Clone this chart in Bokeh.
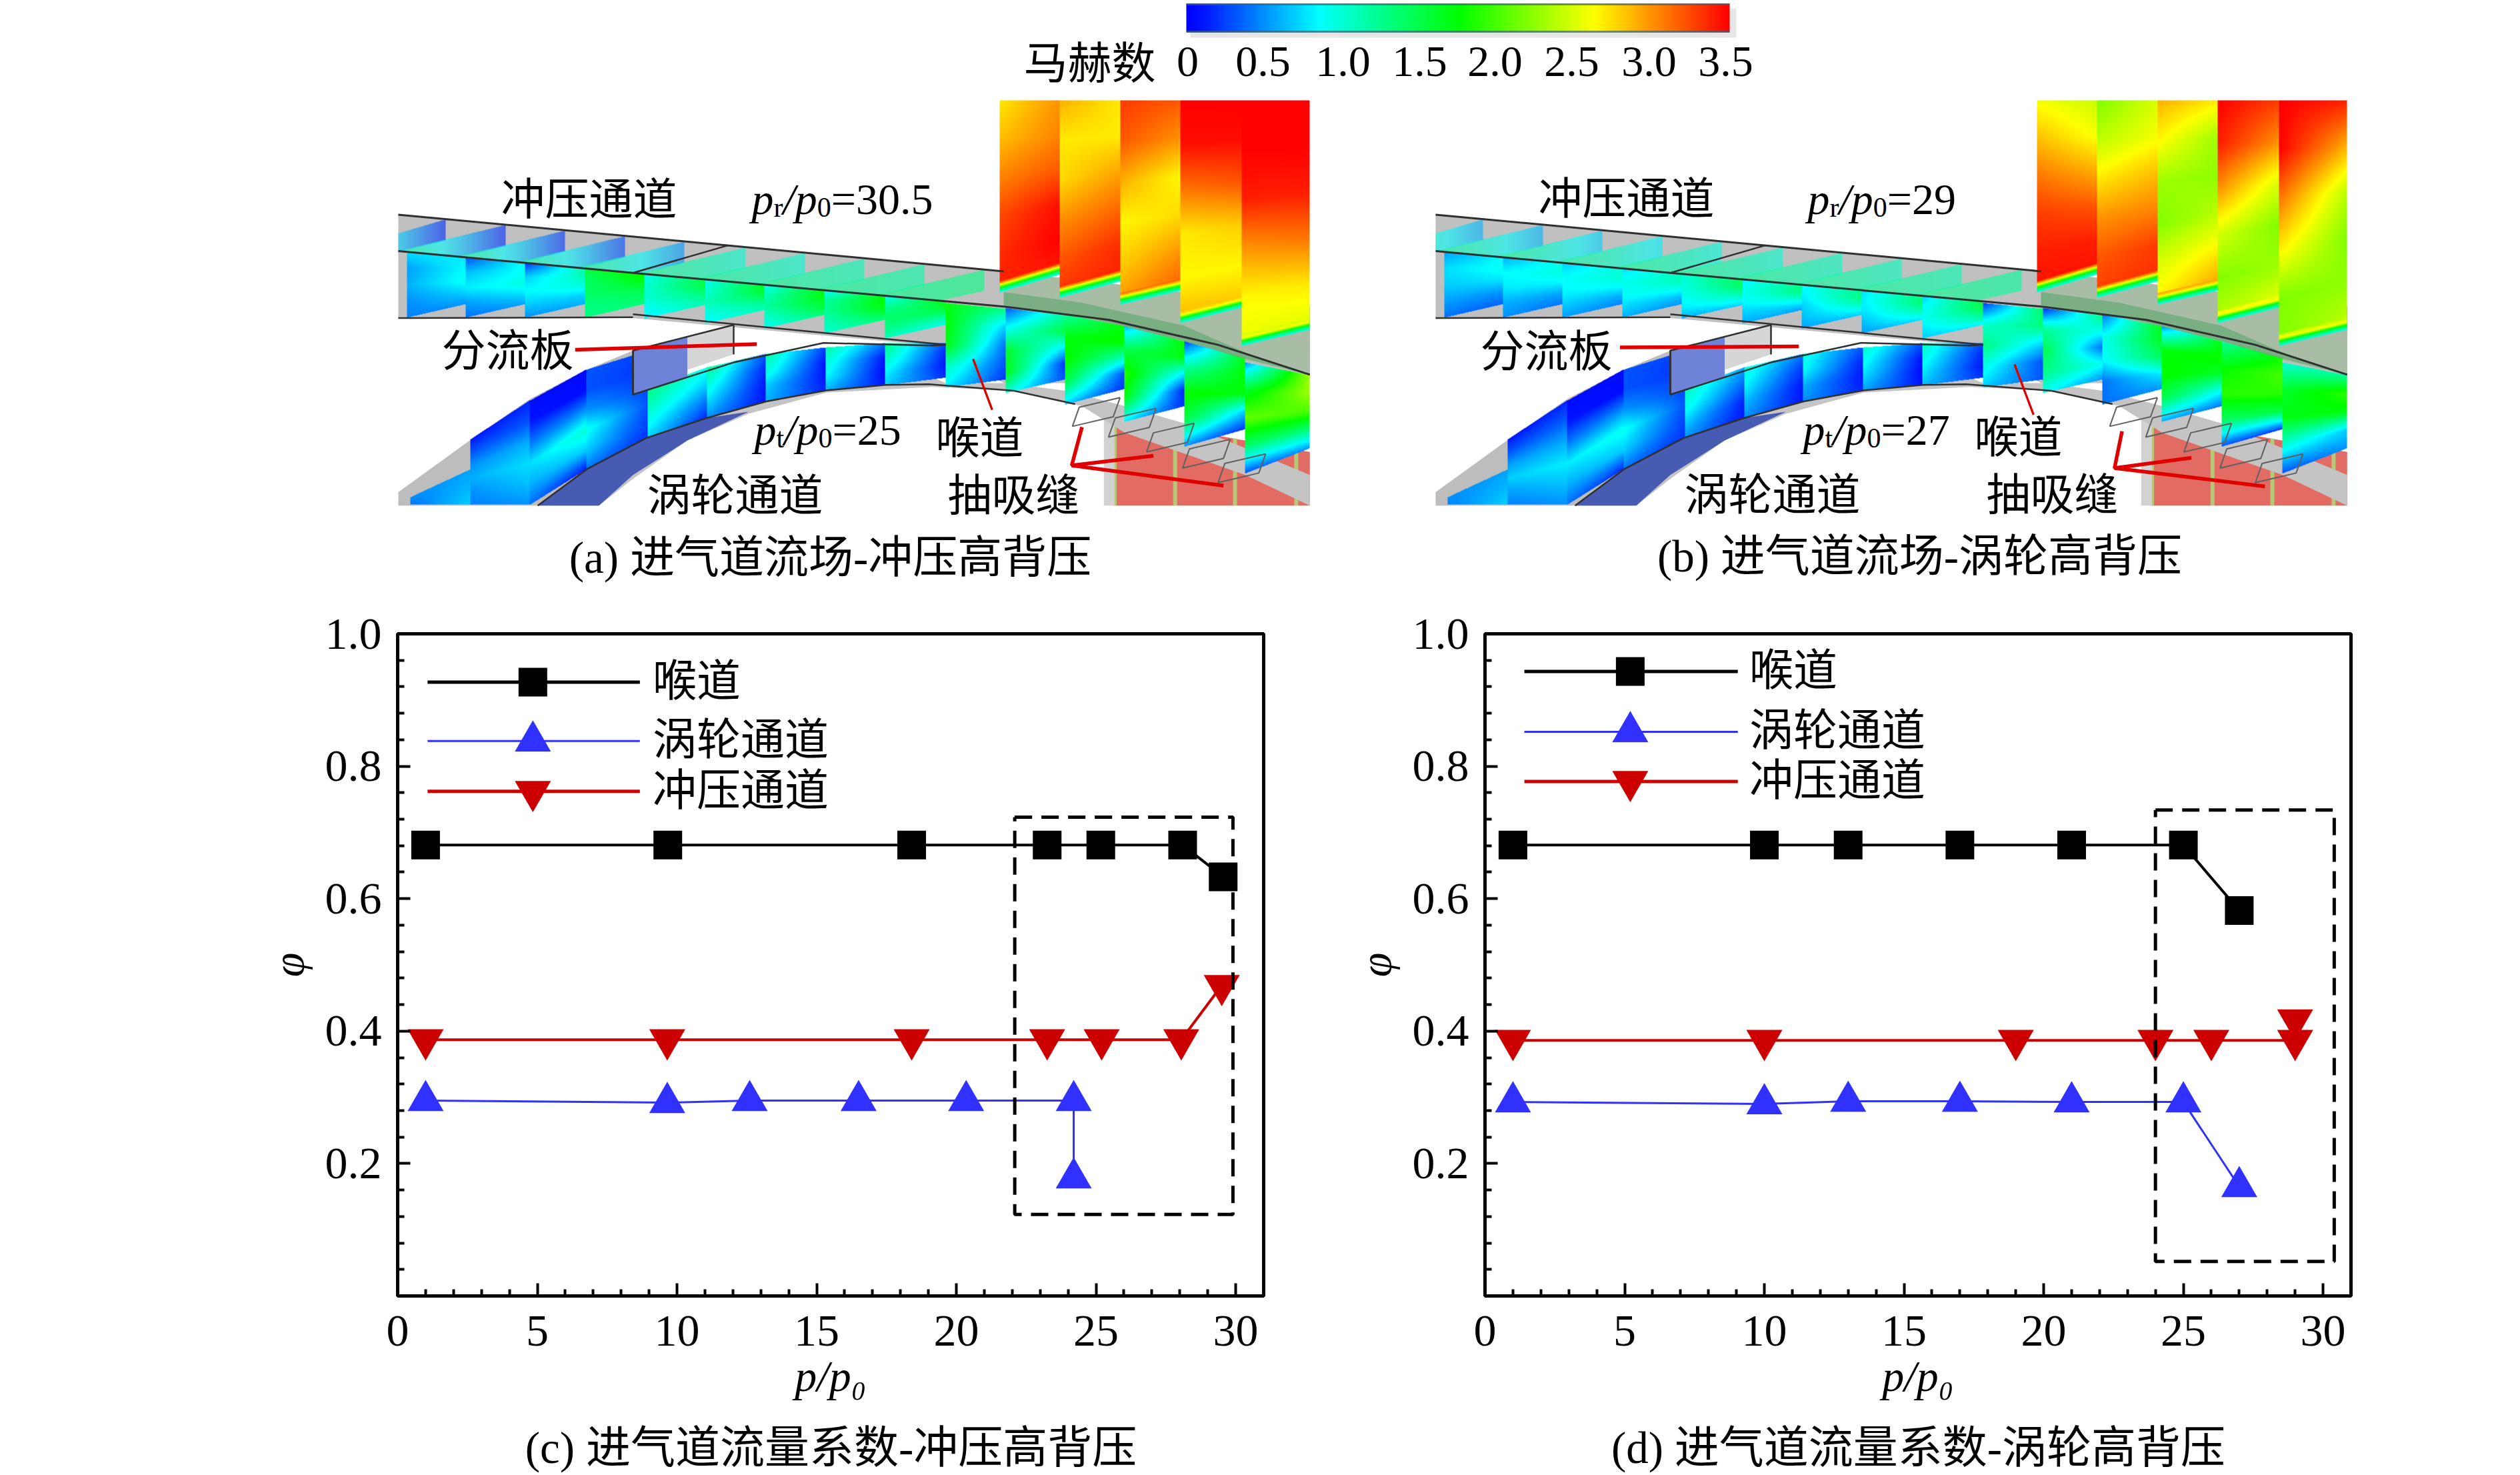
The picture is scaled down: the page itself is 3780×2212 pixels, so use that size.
import numpy as np
from bokeh.plotting import figure
from bokeh.layouts import column, row
from bokeh.models import Range1d, FixedTicker, LinearColorMapper, PrintfTickFormatter
from bokeh.core.properties import value
from bokeh.embed import file_html
from bokeh.resources import INLINE

# ---------------- chart values ----------------
C_THROAT_X = [1, 9.67, 18.4, 23.25, 25.17, 28.1, 29.55]
C_THROAT_Y = [0.681, 0.681, 0.681, 0.681, 0.681, 0.681, 0.633]
C_TURBINE_X = [1, 9.65, 12.6, 16.5, 20.35, 24.2, 24.2]
C_TURBINE_Y = [0.295, 0.292, 0.295, 0.295, 0.295, 0.295, 0.178]
C_RAM_X = [1, 9.65, 18.4, 23.25, 25.2, 28.05, 29.5]
C_RAM_Y = [0.387, 0.387, 0.387, 0.387, 0.387, 0.387, 0.469]
C_BOX_X = [22.09, 29.9, 29.9, 22.09, 22.09]
C_BOX_Y = [0.723, 0.723, 0.123, 0.123, 0.723]

D_THROAT_X = [1, 10, 13, 17, 21, 25, 27]
D_THROAT_Y = [0.681, 0.681, 0.681, 0.681, 0.681, 0.681, 0.582]
D_TURBINE_X = [1, 10, 13, 17, 21, 25, 27]
D_TURBINE_Y = [0.293, 0.290, 0.294, 0.294, 0.293, 0.293, 0.165]
D_RAM_X = [1, 10, 19, 24, 26, 29, 29]
D_RAM_Y = [0.386, 0.386, 0.386, 0.386, 0.386, 0.386, 0.417]
D_BOX_X = [24.0, 30.4, 30.4, 24.0, 24.0]
D_BOX_Y = [0.734, 0.734, 0.052, 0.052, 0.734]

X_TICKS = [0, 5, 10, 15, 20, 25, 30]
X_MINOR = [i for i in range(1, 31) if i % 5]
Y_TICKS = [0.2, 0.4, 0.6, 0.8, 1.0]
Y_MINOR = [round(0.04 * i, 2) for i in range(1, 25) if i % 5]
SERIES_NAMES = ["喉道", "涡轮通道", "冲压通道"]
COLORBAR_TICKS = ["0", "0.5", "1.0", "1.5", "2.0", "2.5", "3.0", "3.5"]

# ---------------- Mach colour scale ----------------
MACH_STOPS = [0.0, 0.1, 0.85, 1.3, 1.76, 2.63, 3.5]
R_STOPS = [0, 0, 0, 0, 0, 255, 255]
G_STOPS = [0, 20, 255, 255, 255, 255, 0]
B_STOPS = [255, 255, 255, 128, 0, 0, 0]

# ---------------- flow-field illustration: Mach read per slice (left edge, right edge) ----------------
UP_X = [108, 195, 282, 370, 457, 546, 634, 722, 811, 900]
UP_A = [([.75,.55,.6,.5,.45],[.8,.85,.9,.7,.5]), ([.3,.65,.8,.55,.4],[.9,.9,.95,.75,.55]),
        ([.2,.7,.85,.7,.5],[1.2,1.1,.95,.7,.6]), ([1.5,1.4,1.4,1.3,1.3],[1.8,1.7,1.5,1.4,1.3]),
        ([.9,1.,1.,.9,.8],[1.5,1.5,1.35,1.2,1.1]), ([.9,1.,1.1,.95,.85],[1.6,1.6,1.4,1.2,1.1]),
        ([.9,1.1,1.2,1.,.9],[1.7,1.7,1.6,1.5,1.3]), ([.85,1.2,1.2,1.1,1.],[1.75,1.75,1.7,1.5,1.3]),
        ([.9,1.2,1.4,1.3,1.1],[1.7,1.6,1.4,1.1,.9])]
UP_B = [([.55,.75,.7,.55,.4],[.85,.9,.75,.5,.35]), ([.6,.85,.8,.6,.5],[.95,.95,.8,.55,.4]),
        ([.7,.85,.85,.7,.55],[1.,1.,.85,.6,.45]), ([.75,.9,.9,.75,.6],[1.1,1.1,.9,.65,.5]),
        ([1.,.95,.9,.8,.6],[1.4,1.4,1.2,.95,.7]), ([.8,.9,.85,.7,.6],[1.25,1.3,1.05,.75,.55]),
        ([.85,.8,.7,.65,.55],[1.2,1.3,1.15,.9,.7]), ([.75,.8,.75,.65,.55],[1.3,1.35,1.2,1.,.75]),
        ([.7,.85,.9,.8,.7],[1.5,1.5,1.3,1.1,.8])]
THROAT_GEOM = [(900,988,790,805,1010,990), (988,1076,803,822,1025,990), (1076,1163,820,850,1055,1015),
               (1163,1251,850,890,1100,1060), (1251,1340,890,932,1165,1120), (1340,1435,945,978,1235,1170)]
THROAT_A = [([1.7,1.75,1.7,1.1,.8],[1.3,.7,.4,.3,.2]), ([.3,.9,1.6,1.7,1.],[1.2,1.5,.8,.2,.3]),
            ([1.2,1.7,1.8,1.5,.7],[1.75,1.8,1.1,.3,.2]), ([.6,1.5,1.9,1.7,.8],[1.8,1.7,.8,.15,.2]),
            ([.25,1.2,1.8,1.5,.5],[1.7,1.75,1.7,.7,.2]), ([.5,1.6,2.1,1.4,.3],[2.3,2.3,2.,1.3,.5])]
THROAT_B = [([.2,1.,1.3,.95,.7],[1.4,1.3,.7,.3,.3]), ([.15,1.2,1.5,1.3,.9],[1.3,.9,.4,.9,.5]),
            ([.4,.9,.85,.4,.4],[1.7,1.6,1.4,.8,.5]), ([.5,1.7,1.8,1.5,.6],[1.7,1.8,1.6,.9,.4]),
            ([1.2,1.75,1.9,1.4,.3],[1.8,2.,1.9,1.5,.2]), ([1.,1.6,1.7,1.,.3],[1.2,1.9,1.7,.7,.5])]
TALL_GEOM = [(980,1068,762,716), (1068,1157,776,734), (1157,1245,794,758), (1245,1335,842,802), (1335,1435,902,860)]
TALL_A = [([2.7,2.85,3.05,3.25,3.35,3.4],[3.,3.05,3.2,3.45,3.5,3.4]), ([2.9,2.7,2.75,3.,3.2,3.35],[2.7,2.7,2.95,3.15,3.35,3.4]),
          ([3.3,3.2,2.9,2.65,2.8,3.],[3.2,3.,2.65,2.75,3.,3.2]), ([3.5,3.45,3.1,2.7,2.65,2.9],[3.5,3.45,3.2,2.8,2.65,2.85]),
          ([3.5,3.5,3.4,3.,2.65,2.55],[3.5,3.5,3.4,3.1,2.7,2.5])]
TALL_B = [([2.6,2.85,3.1,3.3,3.4,3.45],[2.45,2.6,2.9,3.2,3.4,3.45]), ([2.2,2.4,2.7,3.,3.2,3.3],[2.5,2.6,2.85,3.05,3.3,3.35]),
          ([2.9,2.65,2.3,2.2,2.5,2.7],[2.7,2.3,2.25,2.4,2.7,3.]), ([3.5,3.4,3.,2.5,2.2,2.4],[3.3,3.,2.5,2.2,2.3,2.6]),
          ([3.5,3.5,3.1,2.7,2.2,2.2],[3.4,2.9,2.4,2.2,2.25,2.45])]
LOW_GEOM = [(113,201,1297,1225,1317,1317), (201,289,1146,1045,1317,1317), (289,372,1045,964,1317,1225),
            (372,462,964,915,1225,1143), (462,549,1015,958,1146,1091), (549,636,958,923,1091,1048),
            (636,724,923,906,1048,1019), (724,811,906,895,1019,1005), (811,900,895,895,1005,985)]
LOW_A = [([.5,.4],[.55,.7]), ([.1,.3,.5,.6,.5,.45],[.15,.3,.6,.75,.65,.5]), ([.05,.1,.4,.75,.6,.4],[.05,.05,.5,1.,.7,.1]),
         ([.3,.3,.5,.9,.7,.4],[.25,.2,.25,.3,.25,.2]), ([1.3,1.1,.9,.7],[.9,.7,.4,.15]), ([1.25,1.,.75,.5],[.3,.15,.1,.1]),
         ([1.2,1.,.7,.6],[.25,.1,.1,.15]), ([1.2,1.,.85,.6],[.4,.1,.05,.1]), ([1.3,1.1,.85,.7],[.25,.15,.1,.2])]
LOW_B = [([.5,.45],[.55,.7]), ([.1,.3,.55,.7,.55,.45],[.15,.35,.6,.8,.65,.5]), ([.05,.1,.4,.8,.6,.4],[.05,.05,.5,.9,.7,.15]),
         ([.3,.3,.5,.9,.7,.4],[.25,.2,.25,.3,.25,.2]), ([1.1,.95,.7,.5],[.55,.35,.15,.1]), ([1.,.85,.65,.5],[.4,.2,.1,.1]),
         ([.95,.85,.6,.5],[.3,.15,.1,.15]), ([1.05,.9,.75,.55],[.3,.1,.05,.1]), ([1.1,.95,.8,.65],[.25,.15,.1,.2])]
TEETH_X = [165, 253, 341, 429, 516, 606, 693, 781, 869, 957]
TEETH_A = [.15, .15, .2, .25, .5, 1.0, 1.0, 1.1, 1.15, 1.3]
TEETH_B = [.6, .6, .7, .8, .95, 1.0, 1.05, 1.05, 1.1, 1.2]
FRONT_X, FRONT_Y = [95, 440, 985], [655, 712, 800]
BACK_X, BACK_Y = [95, 985], [560, 708]
LOWER_EDGE_X, LOWER_EDGE_Y = [95, 440, 900], [828, 828, 895]

# outlines of the inlet, in the reference's panel (a) sketch units
GRAY_WALL = ([95,580,985,1435,1435,1250,1100,985,900,440,95], [560,640,708,800,990,1000,1000,1000,905,830,830])
THROAT_WALL_TINT = ([985,1435,1435,985], [708,800,978,800])
FIN_BLUE = ([440,520,520,440], [915,880,985,1030])
FIN_GRAY = ([520,588,588,520], [880,848,925,965])
TURB_OUTER = ([95,130,200,290,372,440,462,462,372,300,95], [1285,1240,1150,1040,965,915,905,1143,1225,1320,1320])
LOWER_BAND = ([300,372,460,549,636,724,811,880,900,990,1076,1163,1250,1340,1435,1435,1340,1163,1100,1000,880,724,610,520,440,390],
              [1320,1225,1143,1091,1048,1019,1005,985,1000,1000,1020,1060,1105,1170,1240,1320,1240,1130,1060,1020,1010,1025,1080,1150,1250,1320])
BAND_DARK = ([300,372,460,549,610,520,440,390], [1320,1225,1143,1091,1075,1150,1240,1320])
RED_BG = ([1148,1435,1435,1148], [1090,1180,1320,1320])
RED_STRIPES = [1148, 1237, 1325, 1415]
LIP = ([985,1100,1250,1340,1435,1330,1250,1100,985], [762,790,850,920,978,932,890,825,800])
BACK_LINE = (BACK_X, BACK_Y)
FRONT_LINE = ([95,440,985,1140,1300,1435], [655,712,800,835,900,978])
BOTTOM_LINE = ([95,440], [830,828])
SPLIT_LOW = ([440,900,880,720,590,440,440,440], [820,900,902,895,945,1030,915,915])
WALL_ARC = ([300,372,460,549,636,724,811,875,1000,1090], [1320,1225,1143,1091,1048,1019,1005,1003,1020,1055])
SLOT_X = [1096, 1149, 1205, 1258, 1310]
SLOT_Y = [1063, 1091, 1130, 1172, 1210]
RED_A = [([355,622],[913,898],5), ([940,968],[937,1070],3), ([1100,1085,1205],[1115,1215,1190],5), ([1085,1308],[1215,1268],5)]
RED_B = [([366,629],[907,904],5), ([946,974],[951,1083],3), ([1104,1093,1206],[1126,1222,1195],5), ([1093,1314],[1222,1270],5)]

SERIF = "Liberation Serif"
CJK = "Noto Sans CJK SC"
MIXED = "Liberation Serif, Noto Sans CJK SC"
ADV = {"p": .5, "/": .278, "r": .333, "t": .278, "0": .5, "=": .564, ".": .25}


def mach_rgb(m):
    return np.stack([np.interp(m, MACH_STOPS, s) for s in (R_STOPS, G_STOPS, B_STOPS)], axis=-1)


def interp_curve(x, xs, ys):
    return float(np.interp(x, xs, ys))


PX0, PY0, PW, PH = 597, 149, 1368, 612


def zx(z, dx=0):
    return 500 + 1.0204 * np.asarray(z, dtype=float) + dx


def zy(z):
    return 0.574 * np.asarray(z, dtype=float)


def paint(buf, x0, x1, t0, t1, b0, b1, left, right, alpha=1.0):
    X0, X1 = int(zx(x0) - PX0), int(zx(x1) - PX0)
    full0 = X0
    X0, X1 = max(X0, 0), min(X1, PW)
    if X1 <= X0:
        return
    xs = np.arange(X0, X1)
    u = (xs - full0) / max(X1 - full0 - 1, 1)
    top = zy(t0 + (t1 - t0) * u) - PY0
    bot = zy(b0 + (b1 - b0) * u) - PY0
    ys = np.arange(PH)
    yy, uu = np.meshgrid(ys, u, indexing="ij")
    tt = np.tile(top, (PH, 1))
    bb = np.tile(bot, (PH, 1))
    v = (yy - tt) / np.maximum(bb - tt, 1e-6)
    mask = (yy >= tt) & (yy <= bb)
    pl = np.linspace(0, 1, len(left))
    pr = np.linspace(0, 1, len(right))
    m = (1 - uu) * np.interp(v, pl, left) + uu * np.interp(v, pr, right)
    rgb = mach_rgb(m)
    dst = buf[:, X0:X1]
    dst_a = dst[..., 3:4] / 255.0
    a = mask[..., None] * alpha
    out_a = a + dst_a * (1 - a)
    out_rgb = (rgb * a + dst[..., :3] * dst_a * (1 - a)) / np.maximum(out_a, 1e-6)
    dst[..., :3] = out_rgb
    dst[..., 3:4] = out_a * 255


def flow_raster(up, throat, tall, low, teeth):
    buf = np.zeros((PH, PW, 4), dtype=float)
    for xr, m in zip(TEETH_X, teeth):
        xl, xm = xr - 160, xr - 68
        fl = interp_curve(xl, FRONT_X, FRONT_Y)
        fm = interp_curve(xm, FRONT_X, FRONT_Y)
        br = interp_curve(xr, BACK_X, BACK_Y)
        tm = fl + (br - fl) * (xm - xl) / (xr - xl)
        mm = 1.25 + (m - 1.25) * 0.5
        paint(buf, xl, xm, fl, tm, fl, fm, [1.25, 1.25], [mm, mm], 0.6)
        paint(buf, xm, xr, tm, br, fm, br + 55, [mm, mm], [m, m], 0.6)
    for i, (l, r) in enumerate(up):
        x0, x1 = UP_X[i], UP_X[i + 1]
        b0 = interp_curve(x0, LOWER_EDGE_X, LOWER_EDGE_Y)
        paint(buf, x0, x1, interp_curve(x0, FRONT_X, FRONT_Y), interp_curve(x1, FRONT_X, FRONT_Y), b0, b0 - 35, l, r)
    for g, (l, r) in zip(LOW_GEOM, low):
        paint(buf, *g, l, r)
    for g, (l, r) in zip(THROAT_GEOM, throat):
        paint(buf, *g, l, r)
    for (x0, x1, b0, b1), (l, r) in zip(TALL_GEOM, tall):
        paint(buf, x0, x1, 260, 260, b0, b1, l, r)
        paint(buf, x0, x1, b0 - 30, b1 - 30, b0, b1, [r[-1], 2.6, 1.5, .9], [r[-1], 2.6, 1.5, .9])
    return np.flipud(np.clip(buf, 0, 255).astype(np.uint8)).copy()


def img32(arr):
    view = np.zeros(arr.shape[:2], dtype=np.uint32)
    b = view.view(dtype=np.uint8).reshape(arr.shape)
    b[:] = arr
    return view


PAGE_W = 3772
CHART_BOTTOM = 2120
top = figure(width=PAGE_W, height=900, x_range=Range1d(0, PAGE_W), y_range=Range1d(-900, 0),
             x_axis_location=None, y_axis_location=None, toolbar_location=None,
             output_backend="svg", min_border=0, outline_line_color=None)
top.grid.visible = False
bottom = figure(width=PAGE_W, height=2212 - CHART_BOTTOM, x_range=Range1d(0, PAGE_W), y_range=Range1d(-2212, -CHART_BOTTOM),
                x_axis_location=None, y_axis_location=None, toolbar_location=None,
                output_backend="svg", min_border=0, outline_line_color=None)
bottom.grid.visible = False


def txt(x, y, s, font=CJK, size=66, style="normal", align="center", fig=top):
    shift = 4 if font == CJK else 0
    fig.text([x], [-(y - shift)], text=[s], text_font=value(font), text_font_size=f"{size}px", text_font_style=style,
             text_align=align, text_baseline="middle", text_color="#000000")


def pressure_text(x, base, sub, val):
    pieces = [("p", 66, "italic", 0), (sub, 42, "normal", 12), ("/", 66, "italic", 0),
              ("p", 66, "italic", 0), ("0", 42, "normal", 12)]
    cx = x
    for s, size, st, dy in pieces:
        top.text([cx], [-(base + dy)], text=[s], text_font=value(SERIF), text_font_size=f"{size}px",
                 text_font_style=st, text_align="left", text_baseline="alphabetic", text_color="#000000")
        cx += ADV[s] * size
    top.text([cx], [-base], text=["=" + val], text_font=value(SERIF), text_font_size="66px",
             text_align="left", text_baseline="alphabetic", text_color="#000000")


def panel(dx, up, throat, tall, low, teeth, reds):
    def poly(shape, color, alpha=1.0):
        top.patch(zx(shape[0], dx), -zy(shape[1]), fill_color=color, fill_alpha=alpha, line_color=None)

    def line(shape, color="#303030", w=2.5):
        top.line(zx(shape[0], dx), -zy(shape[1]), line_color=color, line_width=w)

    poly(RED_BG, "#e26c64")
    for s in RED_STRIPES:
        top.line(zx([s, s], dx), -zy([max(1095, 1090 + (s - 1148) * .31), 1320]), line_color="#b6c878", line_width=6)
    top.line(zx([1140, 1140], dx), -zy([1070, 1320]), line_color="#d2d2d2", line_width=16)
    poly(GRAY_WALL, "#c0c0c0")
    poly(THROAT_WALL_TINT, "#a8bca6")
    poly(TURB_OUTER, "#bdbdbd")
    poly(LOWER_BAND, "#c4c4c4")
    poly(FIN_GRAY, "#d6d6d6")
    top.image_rgba(image=[img32(flow_raster(up, throat, tall, low, teeth))], x=[PX0 + dx], y=[-(PY0 + PH)], dw=[PW], dh=[PH])
    poly(FIN_BLUE, "#6e82d8")
    poly(BAND_DARK, "#3a50b0", 0.9)
    poly(LIP, "#6eaa7a", 0.8)
    line(BACK_LINE, w=3)
    line(FRONT_LINE, w=3)
    line(BOTTOM_LINE)
    line(SPLIT_LOW)
    line(WALL_ARC)
    line(([580, 440], [640, 712]))
    line(([440, 440, 588, 588], [1030, 915, 848, 925]))
    for sx, sy in zip(SLOT_X, SLOT_Y):
        line(([sx + 60, sx, sx - 10, sx + 50, sx + 60], [sy - 25, sy, sy + 50, sy + 25, sy - 25]), "#606060", 2)
    for xs, ys, w in reds:
        line((xs, ys), "#e00000", w * 1.1)


panel(0, UP_A, THROAT_A, TALL_A, LOW_A, TEETH_A, RED_A)
panel(1556, UP_B, THROAT_B, TALL_B, LOW_B, TEETH_B, RED_B)

# colour bar
top.quad(left=[1785], right=[2604], top=[-12], bottom=[-56], fill_color="#e6e6e6", line_color=None)
bar_palette = ["#%02x%02x%02x" % tuple(int(c) for c in mach_rgb(m)) for m in np.linspace(0, 3.5, 256)]
top.image(image=[np.linspace(0, 3.5, 512)[None, :]], x=[1779], y=[-48], dw=[815], dh=[43],
          color_mapper=LinearColorMapper(palette=bar_palette, low=0, high=3.5))
top.line([1779, 2594], [-6, -6], line_color="#3f5f70", line_width=3, line_alpha=.7)
top.line([1779, 2594], [-47, -47], line_color="#3f5f70", line_width=3, line_alpha=.7)
txt(1634, 92, "马赫数")
for x, s in zip([1781, 1894, 2014, 2129, 2242, 2357, 2473, 2588], COLORBAR_TICKS):
    txt(x, 92, s, font=SERIF, size=66)

# panel texts
for x, y, s in [(883, 296, "冲压通道"), (761, 523, "分流板"), (1102, 740, "涡轮通道"), (1469, 654, "喉道"), (1520, 740, "抽吸缝"),
                (2439, 295, "冲压通道"), (2319, 524, "分流板"), (2658, 739, "涡轮通道"), (3027, 653, "喉道"), (3078, 739, "抽吸缝")]:
    txt(x, y, s)
pressure_text(1127, 298, "r", "30.5")
pressure_text(1131, 644, "t", "25")
pressure_text(2711, 298, "r", "29")
pressure_text(2704, 644, "t", "27")
txt(1245, 835, "(a) 进气道流场-冲压高背压", font=MIXED, size=67)
txt(2879, 833, "(b) 进气道流场-涡轮高背压", font=MIXED, size=67)


FRAME_W, FRAME_H = 1299, 993
XMAX = 31.0


def chart(left, right, throat, turbine, ram, box, leg_x, leg_y, mark_x, text_x):
    p = figure(frame_width=FRAME_W, frame_height=FRAME_H, x_range=Range1d(0, XMAX), y_range=Range1d(0, 1),
               toolbar_location=None, output_backend="svg", min_border_left=left, min_border_right=right,
               min_border_top=50, min_border_bottom=CHART_BOTTOM - 1943, outline_line_color="#000000", outline_line_width=5)
    p.grid.visible = False
    for ax, t, m in [(p.xaxis[0], X_TICKS, X_MINOR), (p.yaxis[0], Y_TICKS, Y_MINOR)]:
        ax.ticker = FixedTicker(ticks=t, minor_ticks=m)
        ax.major_tick_in, ax.major_tick_out = 19, 0
        ax.minor_tick_in, ax.minor_tick_out = 10, 0
        ax.major_tick_line_width = ax.minor_tick_line_width = 4
        ax.axis_line_width = 5
        ax.major_label_text_font = SERIF
        ax.major_label_text_font_size = "68px"
        ax.major_label_text_color = "#000000"
    p.yaxis[0].formatter = PrintfTickFormatter(format="%.1f")
    p.xaxis[0].major_label_standoff = 30
    p.yaxis[0].major_label_standoff = 24
    p.yaxis[0].axis_label = "φ"
    p.yaxis[0].axis_label_text_font = SERIF
    p.yaxis[0].axis_label_text_font_style = "italic"
    p.yaxis[0].axis_label_text_font_size = "66px"
    p.yaxis[0].axis_label_text_color = "#000000"
    p.yaxis[0].axis_label_standoff = 16
    p.xaxis[0].axis_label = "p/p₀"
    p.xaxis[0].axis_label_text_font = SERIF
    p.xaxis[0].axis_label_text_font_style = "italic"
    p.xaxis[0].axis_label_text_font_size = "66px"
    p.xaxis[0].axis_label_text_color = "#000000"
    p.xaxis[0].axis_label_standoff = 6

    styles = [("#000000", 4, "square", 43), ("#3030ff", 3, "triangle", 54), ("#cc0000", 4, "inverted_triangle", 54)]
    for (xs, ys), (c, w, mk, sz) in zip([throat, turbine, ram], styles):
        p.line(xs, ys, line_color=c, line_width=w)
        p.scatter(xs, ys, marker=mk, size=sz, fill_color=c, line_color=c, line_width=0)
    for ly, name, (c, w, mk, sz), lw in zip(leg_y, SERIES_NAMES, styles, [5, 3, 5]):
        p.line(leg_x, [ly, ly], line_color=c, line_width=lw)
        p.scatter([mark_x], [ly], marker=mk, size=sz, fill_color=c, line_color=c, line_width=0)
        p.text([text_x], [ly], text=[name], text_font=value(CJK), text_font_size="66px", y_offset=-8,
               text_align="left", text_baseline="middle", text_color="#000000")
    p.line(box[0], box[1], line_color="#000000", line_width=5, line_dash="26 14")
    return p


fig_c = chart(596, 128, (C_THROAT_X, C_THROAT_Y), (C_TURBINE_X, C_TURBINE_Y), (C_RAM_X, C_RAM_Y), (C_BOX_X, C_BOX_Y),
              [1.07, 8.67], [.927, .838, .762], 4.84, 9.13)
fig_d = chart(203, 246, (D_THROAT_X, D_THROAT_Y), (D_TURBINE_X, D_TURBINE_Y), (D_RAM_X, D_RAM_Y), (D_BOX_X, D_BOX_Y),
              [1.41, 9.05], [.943, .852, .777], 5.2, 9.46)

txt(1246, 2170, "(c) 进气道流量系数-冲压高背压", font=MIXED, size=67, fig=bottom)
txt(2877, 2170, "(d) 进气道流量系数-涡轮高背压", font=MIXED, size=67, fig=bottom)

page = column(top, row(fig_c, fig_d, spacing=0), bottom, spacing=0)
open("out.html", "w").write(file_html(page, INLINE))
